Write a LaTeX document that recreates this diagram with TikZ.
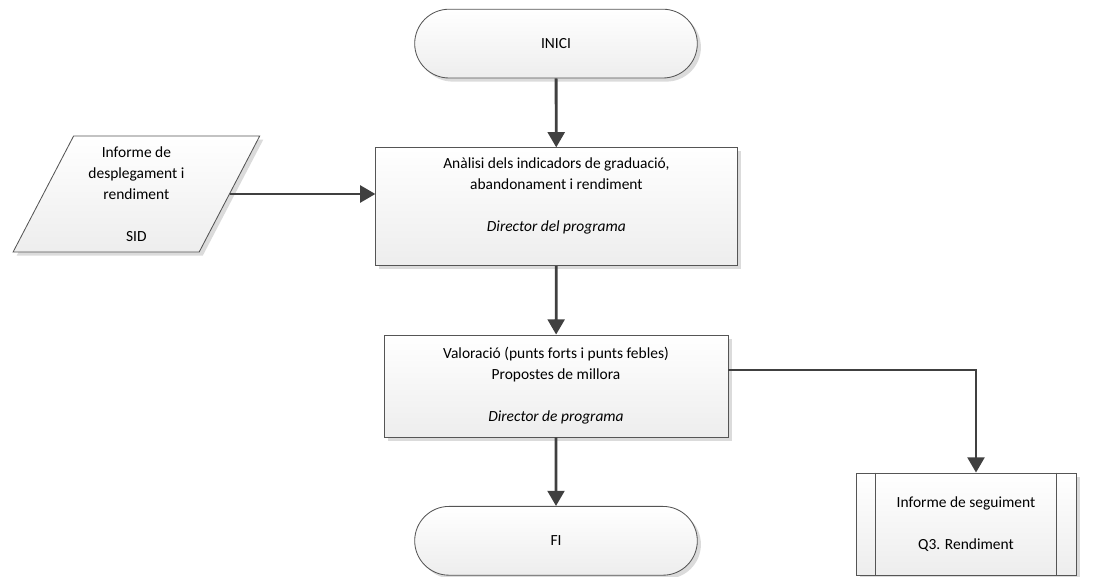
\documentclass[tikz,border=0pt]{standalone}
\usepackage{fontspec}
\setmainfont{Carlito}
\usepackage{tikz}
\usetikzlibrary{shapes.geometric, shapes.misc, positioning, arrows.meta, calc, shadows}

\definecolor{lineclr}{HTML}{404040}
\definecolor{boxedge}{HTML}{555555}

\begin{document}
\begin{tikzpicture}[
        font=\fontsize{11pt}{14.9pt}\selectfont,
        % Define styles for the shapes and the flow lines
        shade/.style={top color=white, bottom color=black!7, draw=boxedge, line width=0.6pt,
            drop shadow={shadow xshift=0.09cm, shadow yshift=-0.09cm, fill=black!14, opacity=1}},
        terminal/.style={shade, rounded rectangle, minimum width=7.3cm, minimum height=1.72cm},
        process/.style={shade, rectangle, align=center},
        datain/.style={shade, trapezium, trapezium left angle=64, trapezium right angle=116,
            trapezium stretches=true, minimum width=6.175cm, minimum height=2.9cm, align=center},
        flow/.style={draw=lineclr, line width=2pt, -{Triangle[length=0.38cm, width=0.42cm]}}
    ]
    \useasboundingbox (0,0) rectangle (27.45,-14.4);

    % Start and end of the flow
    \node[terminal] (inici) at (13.9, -1.09) {INICI};
    \node[terminal] (fi) at (13.9, -13.52) {FI};

    % Process boxes
    \node[process, minimum width=9.03cm, minimum height=2.95cm] (analisi) at (13.91, -5.17) {};
    \node[align=center] (analisitext) at ([yshift=0.27cm]analisi.center)
        {Anàlisi dels indicadors de graduació,\\ abandonament i rendiment\\[14.9pt] \textit{Director del programa}};
    \node[process, minimum width=8.6cm, minimum height=2.55cm] (valoracio) at (13.9, -9.65)
        {Valoració (punts forts i punts febles)\\ Propostes de millora\\[14.9pt] \textit{Director de programa}};

    % Input data
    \node[datain] (sid) at (3.41, -4.85) {Informe de\\ desplegament i\\ rendiment\\[14.9pt] SID};

    % Predefined process (output document)
    \node[process, minimum width=5.5cm, minimum height=2.55cm] (seguiment) at (24.15, -13.1)
        {Informe de seguiment\\[14.9pt] Q3. Rendiment};
    \draw[boxedge, line width=0.6pt] ([xshift=0.5cm]seguiment.north west) -- ([xshift=0.5cm]seguiment.south west);
    \draw[boxedge, line width=0.6pt] ([xshift=-0.5cm]seguiment.north east) -- ([xshift=-0.5cm]seguiment.south east);

    % Draw the connecting lines
    \draw[flow] (inici) -- (analisi);
    \draw[flow] (sid.east) -- (sid.east -| analisi.west);
    \draw[flow] (analisi) -- (valoracio);
    \draw[flow] (valoracio) -- (fi);
    \draw[flow] ([yshift=0.4cm]valoracio.east) -| ([xshift=0.25cm]seguiment.north);

\end{tikzpicture}
\end{document}
